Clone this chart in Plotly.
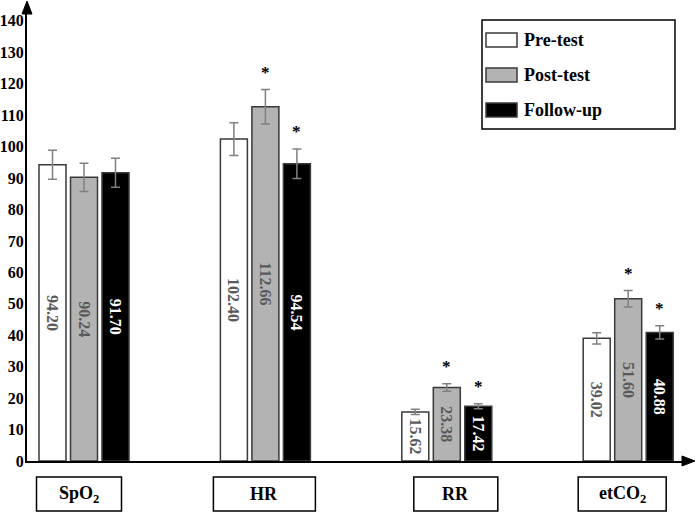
import plotly.graph_objects as go

# ---------------- data ----------------
categories = ["SpO2", "HR", "RR", "etCO2"]
category_labels = ["SpO<sub>2</sub>", "HR", "RR", "etCO<sub>2</sub>"]
series_names = ["Pre-test", "Post-test", "Follow-up"]
pre_test = [94.20, 102.40, 15.62, 39.02]
post_test = [90.24, 112.66, 23.38, 51.60]
follow_up = [91.70, 94.54, 17.42, 40.88]
pre_err = [4.6, 5.2, 0.8, 1.8]
post_err = [4.5, 5.5, 1.2, 2.6]
follow_err = [4.6, 4.7, 0.8, 2.1]
pre_sig = [False, False, False, False]
post_sig = [False, True, True, True]
follow_sig = [False, True, True, True]
y_ticks = list(range(0, 141, 10))

# ---------------- styles ----------------
FONT = "Liberation Serif, Times New Roman, serif"
fills = ["#ffffff", "#b3b3b3", "#000000"]
outline = "#3a3a3a"
text_colors = ["#5a5a5a", "#5a5a5a", "#ffffff"]
label_box_widths = [85, 102, 84, 88]      # px
label_box_shift = [-5, -1, 9, -6]         # px

W, H = 696, 514
L, R, T, B = 27, 690, 7, 461
BARGAP = 0.479
GROUPGAP = 0.143
UNIT = 181.4                               # px per category step
XRANGE = [-(84 - L) / UNIT, (R - 84) / UNIT]


def px(x):
    return (x - L) / (R - L)


def py(y):
    return (B - y) / (B - T)


values = [pre_test, post_test, follow_up]
errors = [pre_err, post_err, follow_err]
sigs = [pre_sig, post_sig, follow_sig]
xpos = list(range(len(categories)))

fig = go.Figure()
for k in range(3):
    fig.add_trace(go.Bar(
        x=xpos, y=values[k], name=series_names[k],
        marker=dict(color=fills[k], line=dict(color=outline, width=1.5)),
        error_y=dict(type="data", array=errors[k], color="#808080",
                     thickness=1.5, width=4.5),
        text=[f"{v:.2f}" for v in values[k]],
        textposition="inside", insidetextanchor="middle", textangle=90,
        insidetextfont=dict(family=FONT, size=16, color=text_colors[k],
                            weight="bold"),
        showlegend=False,
    ))

slot = (1 - BARGAP) / 3
annotations = []
shapes = []
# significance asterisks
for k in range(3):
    for i in xpos:
        if sigs[k][i]:
            annotations.append(dict(
                x=i + (k - 1) * slot, y=values[k][i] + errors[k][i],
                xref="x", yref="y", text="*", showarrow=False,
                yshift=17, font=dict(family=FONT, size=17, color="black",
                                     weight="bold")))

# category label boxes
for i, lab in enumerate(category_labels):
    cx = i + label_box_shift[i] / UNIT
    hw = label_box_widths[i] / 2 / UNIT
    shapes.append(dict(type="rect", xref="x", yref="paper",
                       x0=cx - hw, x1=cx + hw, y0=py(511), y1=py(477),
                       line=dict(color="black", width=1.5),
                       fillcolor="white"))
    annotations.append(dict(
        x=cx, y=py(494), xref="x", yref="paper", text=lab, showarrow=False,
        xanchor="center", yanchor="middle",
        font=dict(family=FONT, size=18, color="black", weight="bold")))


# axis arrow heads
def tri(p1, p2, p3):
    pts = [p1, p2, p3]
    return "M " + " L ".join(f"{px(a):.5f},{py(b):.5f}" for a, b in pts) + " Z"


shapes.append(dict(type="path", xref="paper", yref="paper",
                   path=tri((L, 1), (L - 5, 14), (L + 5, 14)),
                   fillcolor="black", line=dict(color="black", width=1)))
shapes.append(dict(type="path", xref="paper", yref="paper",
                   path=tri((695, B), (682, B - 5), (682, B + 5)),
                   fillcolor="black", line=dict(color="black", width=1)))

# legend (manual, wide swatches)
shapes.append(dict(type="rect", xref="paper", yref="paper",
                   x0=px(482), x1=px(675), y0=py(129), y1=py(20),
                   line=dict(color="black", width=1.5), fillcolor="white",
                   layer="above"))
for k, name in enumerate(series_names):
    cy = 40 + 35 * k
    shapes.append(dict(type="rect", xref="paper", yref="paper",
                       x0=px(486), x1=px(517), y0=py(cy + 7), y1=py(cy - 7),
                       line=dict(color=outline, width=1.5),
                       fillcolor=fills[k], layer="above"))
    annotations.append(dict(x=px(522), y=py(cy), xref="paper", yref="paper",
                            text=name, showarrow=False, xanchor="left",
                            yanchor="middle",
                            font=dict(family=FONT, size=18, color="black",
                                      weight="bold")))

fig.update_layout(
    template="none",
    width=W, height=H,
    margin=dict(l=L, r=W - R, t=T, b=H - B, autoexpand=False),
    paper_bgcolor="white", plot_bgcolor="white",
    barmode="group", bargap=BARGAP, bargroupgap=GROUPGAP,
    showlegend=False,
    xaxis=dict(range=XRANGE, showticklabels=False, showgrid=False,
               zeroline=False, showline=True, linecolor="black", linewidth=2,
               ticks="", automargin=False, fixedrange=True),
    yaxis=dict(range=[0, 144.4], tickvals=y_ticks, showgrid=False,
               zeroline=False, showline=True, linecolor="black", linewidth=2,
               ticks="", ticklabelstandoff=-2, automargin=False,
               fixedrange=True,
               tickfont=dict(family=FONT, size=16, color="black",
                             weight="bold")),
    annotations=annotations,
    shapes=shapes,
)

fig.write_html(
    "out.html",
    config={"displayModeBar": False, "staticPlot": True},
    post_script="document.body.style.margin='0px';"
                "document.body.style.overflow='hidden';",
)
